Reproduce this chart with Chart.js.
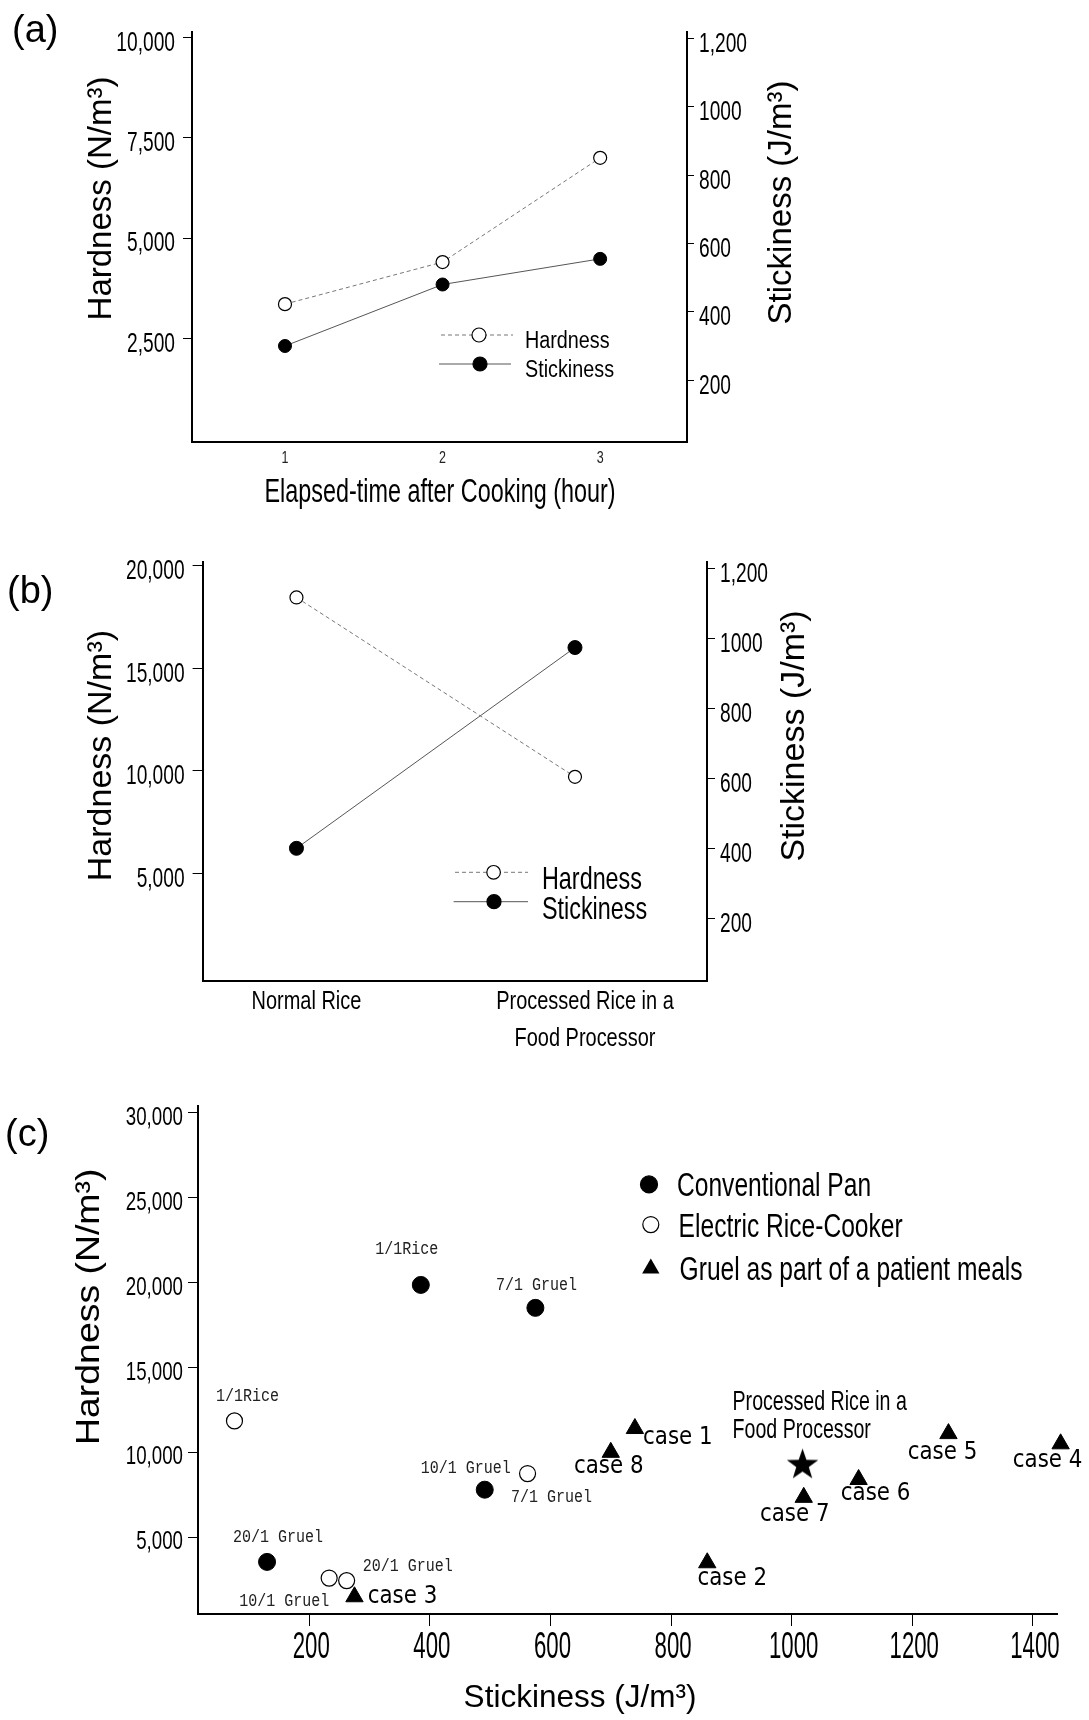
<!DOCTYPE html>
<html>
<head>
<meta charset="utf-8">
<script src="https://cdn.jsdelivr.net/npm/chart.js@4.4.1/dist/chart.umd.min.js"></script>
<style>
  html, body { margin: 0; padding: 0; background: #fff; }
  #page { position: relative; width: 1089px; height: 1720px; }
  canvas { position: absolute; left: 0; }
</style>
</head>
<body>
<div id="page">
  <canvas id="chartA" width="1089" height="520" style="top:0"></canvas>
  <canvas id="chartB" width="1089" height="540" style="top:520px"></canvas>
  <canvas id="chartC" width="1089" height="660" style="top:1060px"></canvas>
</div>
<script>
// ---- data, panel (a)
const hoursA = [1, 2, 3];
const hardnessA = [3350, 4400, 7000];
const stickinessA = [300, 480, 555];

// ---- data, panel (b)
const riceTypesB = ['Normal Rice', ['Processed Rice in a', 'Food Processor']];
const hardnessB = [18450, 9700];
const stickinessB = [400, 975];

// ---- tick labels
const hardTicksA = [2500, 5000, 7500, 10000];
const hardTicksB = [5000, 10000, 15000, 20000];
const hardTicksC = [5000, 10000, 15000, 20000, 25000, 30000];
const stickTicks = [200, 400, 600, 800, 1000, 1200];
const stickTickLabels = ['200', '400', '600', '800', '1000', '1,200'];
const stickTicksC = [200, 400, 600, 800, 1000, 1200, 1400];

// ---- data, panel (c)
const panLabels = ['1/1Rice', '7/1 Gruel', '10/1 Gruel', '20/1 Gruel'];
const panStick = [385, 575, 491, 130];
const panHard = [19850, 18500, 7800, 3550];

const cookerLabels = ['1/1Rice', '7/1 Gruel', '10/1 Gruel', '20/1 Gruel'];
const cookerStick = [76, 562, 233, 262];
const cookerHard = [11850, 8750, 2600, 2450];

const caseLabels = ['case 1', 'case 2', 'case 3', 'case 4', 'case 5', 'case 6', 'case 7', 'case 8'];
const caseStick = [740, 860, 275, 1446, 1260, 1111, 1020, 700];
const caseHard = [11400, 3500, 1500, 10500, 11100, 8400, 7350, 10000];

const processedLabel = ['Processed Rice in a', 'Food Processor'];
const processedStick = [1018];
const processedHard = [9250];

// label placement next to the marks (pixels from the point)
const panOffsets = [[-14, -36], [1, -23], [-19, -22], [11, -25]];
const cookerOffsets = [[13, -25], [24, 23], [-45, 23], [61, -15]];
const caseOffsets = [[43, 9], [25, 16], [48, 0], [-13, 17], [-6, 19], [17, 14], [-9, 17], [-2, 14]];

const SANS = '"Liberation Sans", Arial, sans-serif';
const MONO = '"Liberation Mono", "Courier New", monospace';
const DEJAVU = '"DejaVu Sans", sans-serif';

Chart.defaults.color = '#000';
Chart.defaults.animation = false;
Chart.defaults.events = [];

const pts = (xs, ys) => xs.map((x, i) => ({ x: x, y: ys[i] }));
const setTicks = vals => s => { s.ticks = vals.map(v => ({ value: v })); };

// the original uses a narrow face for tick labels; squeeze them while the scales draw
function condense(bySize) {
  return {
    id: 'condense',
    beforeDraw(chart) {
      const base = CanvasRenderingContext2D.prototype.fillText;
      chart.ctx.fillText = function (t, x, y, mw) {
        const m = /([\d.]+)px/.exec(this.font);
        const sx = m ? bySize[Math.round(parseFloat(m[1]))] : undefined;
        if (!sx) return mw === undefined ? base.call(this, t, x, y) : base.call(this, t, x, y, mw);
        this.save();
        this.translate(x, y);
        this.scale(sx, 1);
        if (mw === undefined) base.call(this, t, 0, 0); else base.call(this, t, 0, 0, mw / sx);
        this.restore();
      };
    },
    beforeDatasetsDraw(chart) { delete chart.ctx.fillText; }
  };
}

function txt(ctx, s, x, y, size, o) {
  o = o || {};
  ctx.save();
  ctx.translate(x, y);
  if (o.rot) ctx.rotate(o.rot);
  ctx.scale(o.sx || 1, o.sy || 1);
  ctx.font = size + 'px ' + (o.family || SANS);
  ctx.fillStyle = o.color || '#000';
  ctx.textAlign = o.align || 'left';
  ctx.textBaseline = o.base || 'alphabetic';
  ctx.fillText(s, 0, 0);
  ctx.restore();
}
function seg(ctx, x1, x2, y, color, dash) {
  ctx.save();
  ctx.beginPath();
  ctx.setLineDash(dash || []);
  ctx.strokeStyle = color;
  ctx.lineWidth = 1;
  ctx.moveTo(x1, y); ctx.lineTo(x2, y);
  ctx.stroke();
  ctx.restore();
}
function dot(ctx, x, y, r, fill) {
  ctx.save();
  ctx.beginPath();
  ctx.arc(x, y, r, 0, Math.PI * 2);
  ctx.fillStyle = fill; ctx.fill();
  ctx.lineWidth = 1.2; ctx.strokeStyle = '#000'; ctx.stroke();
  ctx.restore();
}
function tri(ctx, x, y, r) {
  ctx.save();
  ctx.beginPath();
  for (let i = 0; i < 3; i++) {
    const a = i * 2 * Math.PI / 3;
    ctx.lineTo(x + Math.sin(a) * r, y - Math.cos(a) * r);
  }
  ctx.closePath();
  ctx.fillStyle = '#000'; ctx.fill();
  ctx.restore();
}
function makeStar(R, r) {
  const c = document.createElement('canvas');
  c.width = c.height = Math.ceil(2 * R + 2);
  const g = c.getContext('2d');
  const cx = c.width / 2, cy = c.height / 2;
  g.beginPath();
  for (let i = 0; i < 10; i++) {
    const a = -Math.PI / 2 + i * Math.PI / 5;
    const rr = i % 2 ? r : R;
    g.lineTo(cx + rr * Math.cos(a), cy + rr * Math.sin(a));
  }
  g.closePath();
  g.fillStyle = '#000';
  g.fill();
  return c;
}

function yAxis(pos, min, max, vals, width, tickLen, pad, fmt, size, lblOff) {
  return {
    type: 'linear', position: pos, min: min, max: max,
    afterBuildTicks: setTicks(vals),
    afterFit: s => { s.width = width; },
    grid: { drawOnChartArea: false, tickLength: tickLen, color: '#000', tickColor: '#000', tickWidth: 1 },
    border: { display: true, color: '#000', width: 2 },
    ticks: { font: { family: SANS, size: size }, color: '#000', padding: pad, labelOffset: lblOff, callback: fmt }
  };
}
const commas = v => v.toLocaleString('en-US');
const stickFmt = v => stickTickLabels[stickTicks.indexOf(v)];

const lineHard = { borderColor: '#777', borderWidth: 1, borderDash: [4, 3] };
const lineStick = { borderColor: '#555', borderWidth: 1 };

// ================= (a)
new Chart(document.getElementById('chartA'), {
  type: 'line',
  data: {
    datasets: [
      Object.assign({ label: 'Hardness', yAxisID: 'yL', data: pts(hoursA, hardnessA),
        pointRadius: 6.5, pointBackgroundColor: '#fff', pointBorderColor: '#000', pointBorderWidth: 1.2 }, lineHard),
      Object.assign({ label: 'Stickiness', yAxisID: 'yR', data: pts(hoursA, stickinessA),
        pointRadius: 6.5, pointBackgroundColor: '#000', pointBorderColor: '#000', pointBorderWidth: 1 }, lineStick)
    ]
  },
  options: {
    responsive: false, devicePixelRatio: 1,
    layout: { padding: { top: 32, left: 0, right: 0, bottom: 0 } },
    plugins: { legend: { display: false }, tooltip: { enabled: false } },
    scales: {
      x: {
        type: 'linear', min: 0.41, max: 3.551,
        afterBuildTicks: setTicks(hoursA),
        afterFit: s => { s.height = 78; },
        grid: { display: false, drawTicks: false },
        border: { display: true, color: '#000', width: 2 },
        ticks: { font: { family: SANS, size: 16 }, color: '#222', padding: 7, callback: v => String(v) }
      },
      yL: yAxis('left', -90, 10140, hardTicksA, 192, 9, 8, commas, 27, 6),
      yR: yAxis('right', 19, 1219, stickTicks, 402, 7, 5, stickFmt, 27, 6)
    }
  },
  plugins: [condense({ 27: 0.71, 16: 0.78 }), {
    id: 'decoA',
    afterDraw(chart) {
      const ctx = chart.ctx;
      txt(ctx, '(a)', 12, 41.5, 38);
      txt(ctx, 'Hardness (N/m³)', 110.5, 198.5, 33, { rot: -Math.PI / 2, align: 'center' });
      txt(ctx, 'Stickiness (J/m³)', 791, 202.5, 33, { rot: -Math.PI / 2, align: 'center' });
      txt(ctx, 'Elapsed-time after Cooking (hour)', 440, 502, 32.5, { align: 'center', sx: 0.72 });
      seg(ctx, 441, 513, 335, lineHard.borderColor, lineHard.borderDash);
      dot(ctx, 479, 335, 7, '#fff');
      txt(ctx, 'Hardness', 525, 348, 23, { sx: 0.86 });
      seg(ctx, 439, 511, 364, lineStick.borderColor);
      dot(ctx, 480, 364, 7, '#000');
      txt(ctx, 'Stickiness', 525, 377, 23, { sx: 0.86 });
    }
  }]
});

// ================= (b)
const OB = 520;
new Chart(document.getElementById('chartB'), {
  type: 'line',
  data: {
    datasets: [
      Object.assign({ label: 'Hardness', yAxisID: 'yL', data: pts([1, 2], hardnessB),
        pointRadius: 6.5, pointBackgroundColor: '#fff', pointBorderColor: '#000', pointBorderWidth: 1.2 }, lineHard),
      Object.assign({ label: 'Stickiness', yAxisID: 'yR', data: pts([1, 2], stickinessB),
        pointRadius: 7, pointBackgroundColor: '#000', pointBorderColor: '#000', pointBorderWidth: 1 }, lineStick)
    ]
  },
  options: {
    responsive: false, devicePixelRatio: 1,
    layout: { padding: { top: 42, left: 0, right: 0, bottom: 0 } },
    plugins: { legend: { display: false }, tooltip: { enabled: false } },
    scales: {
      x: {
        type: 'linear', min: 0.663, max: 2.474,
        afterBuildTicks: setTicks([1, 2]),
        afterFit: s => { s.height = 79; },
        grid: { display: false, drawTicks: false },
        border: { display: true, color: '#000', width: 2 },
        ticks: { font: { family: SANS, size: 25.6, lineHeight: 1.45 }, color: '#000', padding: 2,
          labelOffset: 10, callback: v => riceTypesB[v - 1] }
      },
      yL: yAxis('left', -260, 20180, hardTicksB, 202.6, 10, 8, commas, 27, 6),
      yR: yAxis('right', 20, 1220, stickTicks, 382, 8, 5, stickFmt, 27, 6)
    }
  },
  plugins: [condense({ 27: 0.71, 26: 0.78 }), {
    id: 'decoB',
    afterDraw(chart) {
      const ctx = chart.ctx;
      txt(ctx, '(b)', 7, 603 - OB, 38);
      txt(ctx, 'Hardness (N/m³)', 111, 755.6 - OB, 34, { rot: -Math.PI / 2, align: 'center' });
      txt(ctx, 'Stickiness (J/m³)', 803.5, 736 - OB, 34, { rot: -Math.PI / 2, align: 'center' });
      seg(ctx, 455, 528, 872.3 - OB, lineHard.borderColor, lineHard.borderDash);
      dot(ctx, 493.6, 872.3 - OB, 6.8, '#fff');
      txt(ctx, 'Hardness', 542, 889 - OB, 32, { sx: 0.73 });
      seg(ctx, 453.6, 528, 901.7 - OB, lineStick.borderColor);
      dot(ctx, 494, 901.7 - OB, 7, '#000');
      txt(ctx, 'Stickiness', 542, 918.5 - OB, 32, { sx: 0.73 });
    }
  }]
});

// ================= (c)
const OC = 1060;
const star = makeStar(16.5, 6.6);
const monoOpt = { family: MONO, align: 'center', base: 'middle', sy: 1.25, color: '#222' };
const caseOpt = { family: DEJAVU, align: 'center', base: 'middle', sy: 1.15 };
new Chart(document.getElementById('chartC'), {
  type: 'scatter',
  data: {
    datasets: [
      { label: 'Conventional Pan', data: pts(panStick, panHard), clip: false,
        pointRadius: 8.5, pointBackgroundColor: '#000', pointBorderColor: '#000', pointBorderWidth: 1 },
      { label: 'Electric Rice-Cooker', data: pts(cookerStick, cookerHard), clip: false,
        pointRadius: 8, pointBackgroundColor: '#fff', pointBorderColor: '#000', pointBorderWidth: 1.2 },
      { label: 'Gruel as part of a patient meals', data: pts(caseStick, caseHard), clip: false,
        pointStyle: 'triangle', pointRadius: 10, pointBackgroundColor: '#000', pointBorderColor: '#000', pointBorderWidth: 1 },
      { label: 'Processed Rice in a Food Processor', data: pts(processedStick, processedHard), clip: false,
        pointStyle: star, pointRadius: 16 }
    ]
  },
  options: {
    responsive: false, devicePixelRatio: 1,
    layout: { padding: { top: 46, left: 0, right: 32, bottom: 0 } },
    plugins: { legend: { display: false }, tooltip: { enabled: false } },
    scales: {
      x: {
        type: 'linear', min: 15.5, max: 1440,
        afterBuildTicks: setTicks(stickTicksC),
        afterFit: s => { s.height = 106; },
        grid: { drawOnChartArea: false, tickLength: 12, color: '#000', tickColor: '#000', tickWidth: 1 },
        border: { display: true, color: '#000', width: 2 },
        ticks: { font: { family: SANS, size: 37 }, color: '#000', padding: 0, labelOffset: 2, callback: v => String(v) }
      },
      y: yAxis('left', 485, 30380, hardTicksC, 198, 10, 5, commas, 26, 5)
    }
  },
  plugins: [condense({ 26: 0.72, 37: 0.6 }), {
    id: 'decoC',
    afterDatasetsDraw(chart) {
      const ctx = chart.ctx;
      const put = (di, labels, offs, size, opt) => {
        chart.getDatasetMeta(di).data.forEach((p, i) => {
          txt(ctx, labels[i], p.x + offs[i][0], p.y + offs[i][1], size, opt);
        });
      };
      put(0, panLabels, panOffsets, 15, monoOpt);
      put(1, cookerLabels, cookerOffsets, 15, monoOpt);
      put(2, caseLabels, caseOffsets, 21.4, caseOpt);
      const s = chart.getDatasetMeta(3).data[0];
      txt(ctx, processedLabel[0], s.x - 70, s.y - 54.6, 28, { sx: 0.7 });
      txt(ctx, processedLabel[1], s.x - 70, s.y - 26.6, 28, { sx: 0.7 });
    },
    afterDraw(chart) {
      const ctx = chart.ctx;
      txt(ctx, '(c)', 5, 1146 - OC, 38);
      txt(ctx, 'Hardness (N/m³)', 99, 1306.8 - OC, 34, { rot: -Math.PI / 2, align: 'center', sx: 1.1 });
      txt(ctx, 'Stickiness (J/m³)', 580, 1707 - OC, 31.5, { align: 'center' });
      const ds = chart.data.datasets;
      dot(ctx, 649, 1184.4 - OC, 8.5, '#000');
      txt(ctx, ds[0].label, 677, 1196 - OC, 33, { sx: 0.745 });
      dot(ctx, 650.8, 1224.6 - OC, 8, '#fff');
      txt(ctx, ds[1].label, 678.6, 1237 - OC, 33, { sx: 0.745 });
      tri(ctx, 650.8, 1268.5 - OC, 10);
      txt(ctx, ds[2].label, 679.6, 1280 - OC, 33, { sx: 0.745 });
    }
  }]
});
</script>
</body>
</html>
